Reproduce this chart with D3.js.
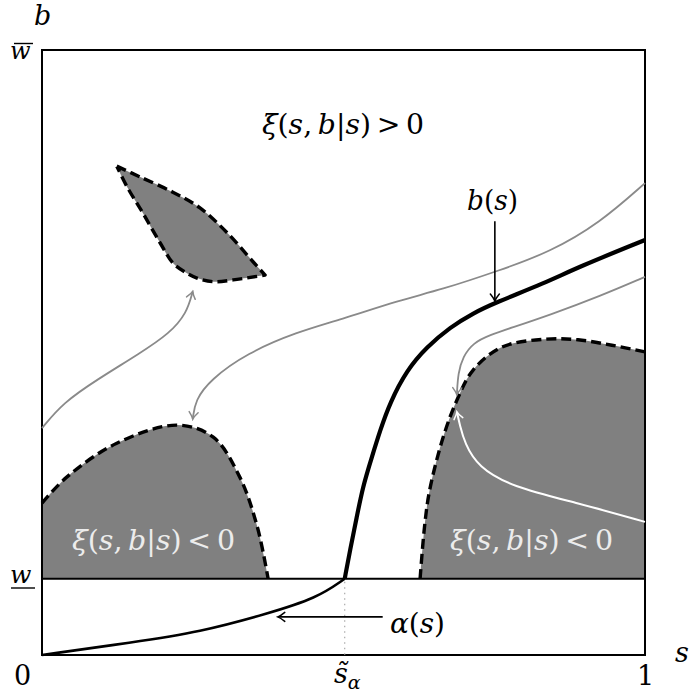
<!DOCTYPE html>
<html>
<head>
<meta charset="utf-8">
<script src="https://cdn.jsdelivr.net/npm/d3@7"></script>
<style>
  body { margin: 0; background: #fff; }
</style>
</head>
<body>
<div id="chart"></div>
<script>
// values, s and b both on [0,1]
var wLow = 0.126;
var sAlpha = 0.502;

// region boundaries (dashed)
var leafUpper = [[0.124,0.808],[0.163,0.790],[0.217,0.765],[0.262,0.739],[0.307,0.698],[0.350,0.650],[0.370,0.628]];
var leafLower = [[0.370,0.628],[0.317,0.620],[0.284,0.617],[0.257,0.623],[0.237,0.633],[0.217,0.648],[0.196,0.681],[0.167,0.731],[0.141,0.774],[0.124,0.808]];
var leftBlob = [[0,0.251],[0.041,0.294],[0.124,0.350],[0.224,0.380],[0.284,0.360],[0.328,0.294],[0.357,0.212],[0.375,0.126]];
var rightBlob = [[0.627,0.126],[0.635,0.218],[0.643,0.273],[0.665,0.359],[0.688,0.421],[0.715,0.471],[0.763,0.509],[0.834,0.522],[0.889,0.521],[0.945,0.512],[1,0.501]];

// b(s) and alpha(s)
var bCurve = [[0.502,0.126],[0.511,0.174],[0.522,0.228],[0.532,0.278],[0.547,0.327],[0.561,0.372],[0.577,0.417],[0.605,0.471],[0.638,0.509],[0.677,0.542],[0.715,0.565],[0.751,0.582],[0.834,0.615],[0.889,0.641],[1,0.686]];
var alphaCurve = [[0,0],[0.151,0.021],[0.262,0.038],[0.373,0.068],[0.456,0.094],[0.502,0.126]];

// trajectories
var grayTop = [[1,0.780],[0.925,0.714],[0.842,0.666],[0.760,0.636],[0.660,0.603],[0.594,0.587],[0.494,0.554],[0.423,0.534],[0.340,0.499],[0.279,0.455],[0.254,0.421],[0.250,0.390]];
var grayLeft = [[0,0.375],[0.035,0.417],[0.091,0.455],[0.163,0.499],[0.212,0.532],[0.240,0.565],[0.250,0.601]];
var grayRight = [[1,0.625],[0.925,0.593],[0.842,0.562],[0.776,0.540],[0.743,0.529],[0.715,0.516],[0.698,0.493],[0.690,0.466],[0.688,0.430]];
var whiteCurve = [[1,0.220],[0.889,0.251],[0.779,0.278],[0.723,0.311],[0.701,0.350],[0.693,0.380],[0.688,0.402]];

// annotation arrows
var bArrow = [[0.751,0.717],[0.751,0.585]];
var alphaArrow = [[0.565,0.063],[0.391,0.063]];

var margin = { left: 42, top: 50, right: 45, bottom: 39 },
    width = 690 - margin.left - margin.right,
    height = 694 - margin.top - margin.bottom;

var svg = d3.select("#chart").append("svg")
  .attr("width", 690)
  .attr("height", 694);

var x = d3.scaleLinear().domain([0, 1]).range([margin.left, margin.left + width]);
var y = d3.scaleLinear().domain([0, 1]).range([margin.top + height, margin.top]);

function makeLine(curve) {
  return d3.line()
    .x(function(d) { return x(d[0]); })
    .y(function(d) { return y(d[1]); })
    .curve(curve);
}
var line = makeLine(d3.curveCatmullRom.alpha(0.5));
var smooth = makeLine(d3.curveBasis);
var straight = makeLine(d3.curveLinear);

var fillGray = "#808080";
var serif = "DejaVu Serif";

// arrow heads, latex style
var defs = svg.append("defs");
[["gray", "#8a8a8a"], ["white", "#ffffff"], ["black", "#000000"]].forEach(function(m) {
  defs.append("marker")
    .attr("id", "arr-" + m[0])
    .attr("viewBox", "-10 -6 12 12")
    .attr("refX", 0).attr("refY", 0)
    .attr("markerWidth", 12).attr("markerHeight", 12)
    .attr("markerUnits", "userSpaceOnUse")
    .attr("orient", "auto")
    .append("path")
    .attr("d", "M-7,-4.5 C-4,-2 -1.5,-0.5 0,0 C-1.5,0.5 -4,2 -7,4.5")
    .attr("fill", "none")
    .attr("stroke", m[1])
    .attr("stroke-width", 1.5)
    .attr("stroke-linecap", "round");
});

var leafPath = line(leafUpper) + line(leafLower).replace(/^M/, "L");

// shaded regions
svg.append("path")
  .attr("d", "M" + x(0) + "," + y(wLow) + line(leftBlob).replace(/^M/, "L") + "Z")
  .attr("fill", fillGray);
svg.append("path")
  .attr("d", line(rightBlob) + "L" + x(1) + "," + y(wLow) + "Z")
  .attr("fill", fillGray);
svg.append("path")
  .attr("d", leafPath + "Z")
  .attr("fill", fillGray);

// w line and frame
svg.append("line")
  .attr("x1", x(0)).attr("x2", x(1))
  .attr("y1", y(wLow)).attr("y2", y(wLow))
  .attr("stroke", "#000").attr("stroke-width", 2);
svg.append("rect")
  .attr("x", x(0)).attr("y", y(1))
  .attr("width", x(1) - x(0)).attr("height", y(0) - y(1))
  .attr("fill", "none").attr("stroke", "#000").attr("stroke-width", 2);

// dotted guide at s~alpha
svg.append("line")
  .attr("x1", x(sAlpha)).attr("x2", x(sAlpha))
  .attr("y1", y(wLow) + 3).attr("y2", y(0))
  .attr("stroke", "#aaa").attr("stroke-width", 1.2)
  .attr("stroke-dasharray", "1.5,4");

// dashed boundaries
[line(leftBlob), line(rightBlob), leafPath].forEach(function(d) {
  svg.append("path")
    .attr("d", d)
    .attr("fill", "none").attr("stroke", "#000")
    .attr("stroke-width", 3.4).attr("stroke-dasharray", "10,5")
    .attr("stroke-linejoin", "round");
});

// trajectories
[grayTop, grayLeft, grayRight].forEach(function(pts) {
  svg.append("path")
    .attr("d", smooth(pts))
    .attr("fill", "none").attr("stroke", "#8a8a8a")
    .attr("stroke-width", 1.8)
    .attr("marker-end", "url(#arr-gray)");
});
svg.append("path")
  .attr("d", smooth(whiteCurve))
  .attr("fill", "none").attr("stroke", "#fff")
  .attr("stroke-width", 2)
  .attr("marker-end", "url(#arr-white)");

// b(s) and alpha(s)
svg.append("path")
  .attr("d", smooth(bCurve))
  .attr("fill", "none").attr("stroke", "#000")
  .attr("stroke-width", 4.2);
svg.append("path")
  .attr("d", smooth(alphaCurve))
  .attr("fill", "none").attr("stroke", "#000")
  .attr("stroke-width", 2.6);

// annotation arrows
[bArrow, alphaArrow].forEach(function(pts) {
  svg.append("path")
    .attr("d", straight(pts))
    .attr("fill", "none").attr("stroke", "#000")
    .attr("stroke-width", 1.6)
    .attr("marker-end", "url(#arr-black)");
});

// math text helper: parts are [string, italic]
function mathText(px, py, parts, opts) {
  opts = opts || {};
  var t = svg.append("text")
    .attr("x", px).attr("y", py)
    .attr("font-family", serif)
    .attr("text-anchor", opts.anchor || "start")
    .attr("font-size", opts.size || 27)
    .attr("fill", opts.fill || "#000");
  parts.forEach(function(p) {
    t.append("tspan")
      .attr("font-style", p[1] ? "italic" : "normal")
      .text(p[0]);
  });
  if (opts.len) t.attr("textLength", opts.len).attr("lengthAdjust", "spacingAndGlyphs");
  return t;
}

var xiParts = function(sign) {
  return [["\u03BE", 1], ["(", 0], ["s", 1], [",\u2009", 0], ["b", 1], ["|", 0], ["s", 1], [")", 0], ["\u2009" + sign + "\u20090", 0]];
};

mathText(262, 134, xiParts(">"), { len: 162 });
mathText(72, 550, xiParts("<"), { fill: "#ececec", len: 163 });
mathText(450, 550, xiParts("<"), { fill: "#ececec", len: 163 });

mathText(467, 210, [["b", 1], ["(", 0], ["s", 1], [")", 0]], { len: 51 });
mathText(390, 633, [["\u03B1", 1], ["(", 0], ["s", 1], [")", 0]], { len: 55 });

// axis labels
mathText(34, 25, [["b", 1]]);
mathText(675, 662, [["s", 1]]);
mathText(14, 685, [["0", 0]]);
mathText(637, 685, [["1", 0]]);

// w bar / w underline
mathText(10, 59, [["w", 1]], { size: 24 });
svg.append("line").attr("x1", 14).attr("x2", 33).attr("y1", 43.5).attr("y2", 43.5)
  .attr("stroke", "#000").attr("stroke-width", 1.4);
mathText(10, 583, [["w", 1]], { size: 25 });
svg.append("line").attr("x1", 11).attr("x2", 35).attr("y1", 588).attr("y2", 588)
  .attr("stroke", "#000").attr("stroke-width", 1.4);

// s tilde alpha
var st = svg.append("text")
  .attr("x", 334).attr("y", 683)
  .attr("font-family", serif).attr("font-size", 27);
st.append("tspan").attr("font-style", "italic").text("s\u0303");
st.append("tspan").attr("font-style", "italic").attr("font-size", 19).attr("dy", 6).text("\u03B1");
</script>
</body>
</html>
